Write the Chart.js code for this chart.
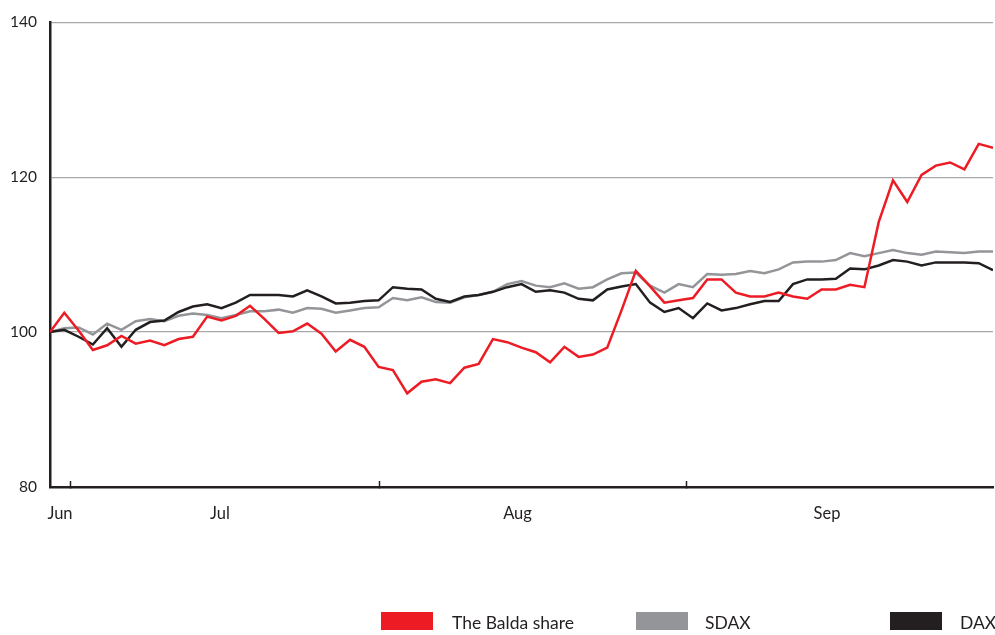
<!DOCTYPE html>
<html>
<head>
<meta charset="utf-8">
<script src="https://cdn.jsdelivr.net/npm/chart.js@4.4.1/dist/chart.umd.min.js"></script>
<style>
  html, body { margin: 0; padding: 0; background: #ffffff; }
  #wrap { position: relative; width: 995px; height: 635px; }
  canvas { position: absolute; left: 0; top: 0; }
  .lg { position: absolute; top: 612px; height: 18px; font-family: Lato, 'Open Sans', sans-serif; font-size: 17.5px; color: #231f20; }
  .lg .box { position: absolute; left: 0; top: 0; width: 52px; height: 18px; }
  .lg .txt { position: absolute; top: 2px; white-space: nowrap; line-height: 18px; }
</style>
</head>
<body>
<div id="wrap">
  <canvas id="c" width="995" height="635"></canvas>
  <div class="lg" style="left:381px"><div class="box" style="background:#ed1c24"></div><div class="txt" style="left:71px">The Balda share</div></div>
  <div class="lg" style="left:636px"><div class="box" style="background:#939598"></div><div class="txt" style="left:69px">SDAX</div></div>
  <div class="lg" style="left:890px"><div class="box" style="background:#231f20"></div><div class="txt" style="left:70px">DAX</div></div>
</div>
<script>
// ---- data (trading days, index values, start = 100) ----
const balda = [100, 102.5, 100.2, 97.7, 98.3, 99.5, 98.5, 98.9, 98.3, 99.1, 99.4, 102.0, 101.5, 102.1, 103.4, 101.7,
  99.9, 100.1, 101.1, 99.8, 97.5, 99.0, 98.1, 95.5, 95.1, 92.1, 93.6, 93.9, 93.4, 95.4, 95.9, 99.1,
  98.7, 98.0, 97.4, 96.1, 98.1, 96.8, 97.1, 98.0, 102.8, 107.9, 105.9, 103.8, 104.1, 104.4, 106.8, 106.8,
  105.1, 104.6, 104.6, 105.1, 104.6, 104.3, 105.5, 105.5, 106.1, 105.8, 114.2, 119.6, 116.8, 120.3, 121.5, 121.9,
  121.0, 124.3, 123.8];
const sdax = [100, 100.5, 100.6, 99.7, 101.1, 100.3, 101.4, 101.7, 101.4, 102.1, 102.4, 102.2, 101.8, 102.2, 102.7, 102.7,
  102.9, 102.5, 103.1, 103.0, 102.5, 102.8, 103.1, 103.2, 104.4, 104.1, 104.5, 103.9, 103.8, 104.5, 104.8, 105.2,
  106.2, 106.6, 106.0, 105.8, 106.3, 105.6, 105.8, 106.8, 107.6, 107.7, 106.0, 105.1, 106.2, 105.8, 107.5, 107.4,
  107.5, 107.9, 107.6, 108.1, 109.0, 109.1, 109.1, 109.3, 110.2, 109.8, 110.2, 110.6, 110.2, 110.0, 110.4, 110.3,
  110.2, 110.4, 110.4];
const dax = [100, 100.3, 99.4, 98.4, 100.5, 98.1, 100.3, 101.3, 101.5, 102.6, 103.3, 103.6, 103.1, 103.8, 104.8, 104.8,
  104.8, 104.6, 105.4, 104.6, 103.7, 103.8, 104.0, 104.1, 105.8, 105.6, 105.5, 104.3, 103.9, 104.6, 104.8, 105.2,
  105.8, 106.2, 105.2, 105.4, 105.1, 104.3, 104.1, 105.5, 105.9, 106.2, 103.8, 102.6, 103.1, 101.8, 103.7, 102.8,
  103.1, 103.6, 104.0, 104.0, 106.2, 106.8, 106.8, 106.9, 108.2, 108.1, 108.6, 109.3, 109.1, 108.6, 109.0, 109.0,
  109.0, 108.9, 108.0];
const monthLabels = ['Jun', 'Jul', 'Aug', 'Sep'];
const monthLabelPos = [0.7, 11.9, 32.72, 54.38];   // day-index position of month names
const monthTickPos = [1.4, 23.03, 44.58];          // day-index position of month tick marks
const yTicks = [80, 100, 120, 140];

const toXY = arr => arr.map((v, i) => ({ x: i, y: v }));
const lastIdx = balda.length - 1;
const FONT = "Lato, 'Open Sans', sans-serif";

new Chart(document.getElementById('c'), {
  type: 'line',
  data: {
    datasets: [
      { label: 'The Balda share', data: toXY(balda), borderColor: '#ed1c24', order: 0 },
      { label: 'DAX', data: toXY(dax), borderColor: '#231f20', order: 1 },
      { label: 'SDAX', data: toXY(sdax), borderColor: '#939598', order: 2 }
    ]
  },
  options: {
    responsive: false,
    animation: false,
    events: [],
    elements: {
      line: { borderWidth: 2.5, tension: 0, borderJoinStyle: 'miter', fill: false },
      point: { radius: 0 }
    },
    layout: { padding: { top: 22, right: 2, bottom: 108, left: 0 } },
    plugins: { legend: { display: false }, tooltip: { enabled: false } },
    scales: {
      x: {
        type: 'linear', position: 'bottom', min: 0, max: lastIdx,
        afterBuildTicks: s => { s.ticks = monthTickPos.map(v => ({ value: v })); },
        afterFit: s => { s.height = 0; },
        ticks: { display: false, autoSkip: false },
        grid: { display: true, drawOnChartArea: false, drawTicks: true, tickLength: -6, tickColor: '#231f20', tickWidth: 1.5 },
        border: { display: true, color: '#231f20', width: 2.5 }
      },
      x2: {
        type: 'linear', position: 'bottom', min: 0, max: lastIdx,
        afterBuildTicks: s => { s.ticks = monthLabelPos.map(v => ({ value: v })); },
        afterFit: s => { s.height = 40; },
        ticks: { autoSkip: false, maxRotation: 0, padding: 17, color: '#231f20',
                 font: { family: FONT, size: 16.5 },
                 callback: (v, i) => monthLabels[i] },
        grid: { display: false, drawTicks: false },
        border: { display: false }
      },
      y: {
        min: 80, max: 140,
        afterBuildTicks: s => { s.ticks = yTicks.map(v => ({ value: v })); },
        afterFit: s => { s.width = 50; },
        ticks: { padding: 13, color: '#231f20', font: { family: FONT, size: 15.5 } },
        grid: { color: '#a7a9ac', lineWidth: 1.3, drawTicks: false },
        border: { display: true, color: '#231f20', width: 2.5 }
      }
    }
  }
});
</script>
</body>
</html>
